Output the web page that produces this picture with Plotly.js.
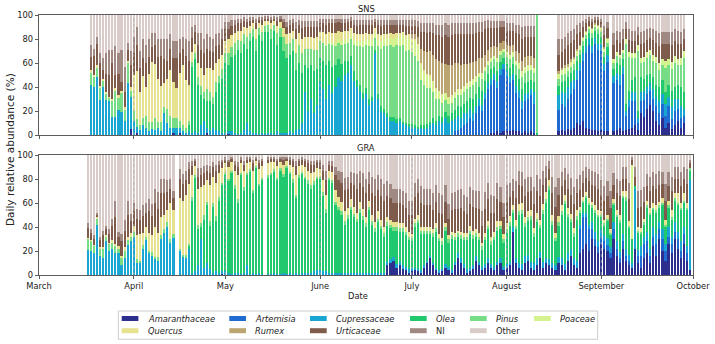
<!DOCTYPE html>
<html><head><meta charset="utf-8">
<script src="https://cdn.plot.ly/plotly-3.0.1.min.js"></script>
<style>html,body{margin:0;padding:0;background:#fff}#chart{width:715px;height:344px}</style>
</head><body><div id="chart"></div>
<script>
const categories = ['Amaranthaceae','Artemisia','Cupressaceae','Olea','Pinus','Poaceae','Quercus','Rumex','Urticaceae','NI','Other'];
const italicNames = [true,true,true,true,true,true,true,true,true,false,false];
const colors = ['#2d2f8e','#1f6bd2','#1aa6d2','#20c96e','#76dc86','#d4f28e','#e6e290','#bba570','#7f5b4b','#a08883','#d9cbc8'];
const monthTicks = ['2021-03-01','2021-04-01','2021-05-01','2021-06-01','2021-07-01','2021-08-01','2021-09-01','2021-10-01'];
const monthLabels = ['March','April','May','June','July','August','September','October'];
const snsStart = '2021-03-18';
const graStart = '2021-03-17';
const n = null;

// ---------- SNS (18 Mar - 28 Sep) ----------
const snsAmaranthaceae = [
0,0,0,0,0,0,0,0,0,0, 0,0,0,5,0,2,0,0,0,0, 0,0,0,0,0,0,0,2,0,2, 0,0,0,0,0,0,0,0,2,0,
0,0,0,0,0,1,0,0,0,0, 0,0,0,0,0,0,0,0,0,0, 0,0,0,0,0,0,0,0,0,0, 0,0,0,0,0,0,0,0,0,0,
0,0,0,0,0,0,0,0,0,0, 0,0,0,0,0,0,0,0,0,0, 0,0,0,0,0,0,0,0,0,0, 0,0,0,0,0,0,0,0,0,0,
0,0,0,0,0,0,0,0,0,0, 0,2,2,3,2,3,3,3,4,3, 3,2,3,2,3,2,0,n,n,n, n,n,n,3,4,3,5,4,6,10,
8,12,6,5,4,4,3,4,3,3, n,3,4,6,3,4,5,6,8,4, 18,15,22,25,20,12,8,14,6,10, 5,8,12,6,10];
const snsArtemisia = [
0,0,0,0,0,0,0,0,0,0, 0,0,0,0,0,0,0,0,0,0, 0,0,0,0,0,0,0,0,0,0, 0,0,0,0,0,0,0,0,0,0,
0,0,0,0,0,0,0,0,0,0, 0,0,0,0,0,0,0,0,0,0, 0,0,0,0,0,0,0,0,0,0, 0,0,0,0,0,0,0,0,0,0,
0,0,0,0,0,0,0,0,0,0, 0,0,0,0,0,0,0,0,0,0, 0,0,0,0,0,0,0,0,0,0, 0,0,0,0,0,0,0,0,0,3,
4,6,8,10,14,12,18,24,20,30, 38,40,44,36,48,52,45,40,42,32, 28,20,25,28,30,24,0,n,n,n, n,n,n,18,22,20,25,30,32,36,
45,50,62,70,64,72,68,66,50,58, n,40,42,36,48,12,18,22,20,6, 10,14,12,12,10,12,10,12,10,14, 8,12,10,8,6];
const snsCupressaceae = [
42,40,48,29,40,29,28,15,15,21, 19,12,43,27,12,5,4,8,6,3, 5,4,6,3,18,10,6,4,6,4, 3,2,3,2,3,2,8,12,4,3,
6,4,3,2,2,2,3,2,1,2, 4,10,3,2,2,1,2,1,2,2, 1,3,2,2,2,3,2,4,5,10, 36,20,30,18,25,44,38,30,42,35,
40,48,45,50,52,58,45,40,36,30, 34,25,28,68,30,20,18,15,12,12, 10,12,9,8,7,7,6,5,6,5, 6,8,10,8,12,10,14,10,12,10,
12,8,10,8,8,6,6,6,5,5, 5,5,5,6,5,4,5,5,5,6, 6,6,6,5,5,10,0,n,n,n, n,n,n,12,10,12,10,10,8,8,
7,6,6,5,6,5,5,6,6,6, n,6,6,8,6,4,6,8,8,4, 8,8,6,6,8,8,10,8,10,8, 10,10,8,10,6];
const snsOlea = [
0,0,0,0,0,0,0,0,0,0, 0,0,0,0,0,0,0,0,0,0, 0,0,0,0,0,0,0,0,0,0, 0,0,5,55,60,40,25,18,22,25,
20,32,40,45,58,55,62,65,70,66, 72,62,75,80,68,82,76,85,84,78, 86,72,80,68,62,64,68,50,55,42, 22,36,28,35,30,20,24,28,20,22,
18,15,14,12,10,8,8,6,6,5, 5,5,4,3,4,4,4,3,3,3, 3,2,2,2,2,2,2,2,2,3, 3,3,4,4,4,5,5,6,6,8,
8,9,8,10,9,12,10,10,12,10, 8,8,6,8,6,5,6,8,8,9, 10,10,9,9,8,8,2,n,n,n, n,n,n,8,8,10,8,8,8,8,
7,6,6,5,7,6,8,6,6,6, n,6,8,8,6,6,8,10,12,6, 12,10,10,8,10,10,12,12,10,10, 14,10,12,16,14];
const snsPinus = [
10,8,8,10,5,5,3,13,22,10, 16,9,17,5,8,6,4,6,10,8, 6,10,5,8,5,12,10,8,8,6, 5,4,4,4,5,6,8,6,10,8,
6,8,6,8,8,10,8,10,8,10, 8,10,7,6,10,6,8,5,6,8, 5,10,7,12,12,10,10,14,15,16, 14,16,14,18,16,14,15,16,14,18,
16,14,16,14,15,14,22,28,32,38, 36,44,42,10,40,48,52,56,60,58, 62,60,64,60,62,60,58,55,38,34, 30,28,22,18,14,12,10,10,9,10,
9,10,10,10,9,12,10,8,10,8, 7,6,6,8,6,5,6,7,6,8, 8,10,9,9,8,8,98,n,n,n, n,n,n,6,6,6,5,5,5,4,
4,4,3,3,4,3,4,4,4,4, n,5,6,6,5,50,28,18,16,50, 12,14,14,16,14,18,14,12,20,16, 18,20,16,18,28];
const snsPoaceae = [
0,0,0,0,0,0,0,0,0,0, 0,0,0,0,0,0,0,0,0,0, 0,0,0,0,0,0,0,0,0,0, 0,0,0,0,0,0,0,0,0,0,
0,0,0,0,0,0,0,0,0,0, 0,0,0,0,0,0,0,0,0,0, 0,0,0,0,0,0,0,0,0,0, 0,0,0,0,0,0,0,2,2,2,
3,3,3,3,3,3,4,4,4,5, 5,5,5,4,5,6,6,6,6,7, 7,8,8,10,10,10,12,12,12,10, 10,9,8,8,6,6,5,5,5,4,
4,4,4,4,4,4,4,3,4,3, 3,3,3,3,3,3,4,4,4,4, 5,5,5,5,4,4,0,n,n,n, n,n,n,4,4,5,4,4,4,4,
3,3,3,2,3,2,3,3,3,3, n,3,3,3,3,4,4,4,4,5, 4,4,5,4,5,5,6,5,6,5, 6,6,5,6,6];
const snsQuercus = [
2,2,2,2,2,2,1,2,2,2, 2,2,2,3,30,40,28,35,24,40, 50,45,36,30,20,25,38,30,25,40, 50,40,30,8,8,12,15,14,18,20,
22,16,14,12,10,12,10,8,8,9, 6,7,6,5,8,4,6,4,3,5, 3,6,5,7,8,8,7,12,10,12, 10,10,10,10,11,8,9,8,8,8,
8,7,8,8,7,6,6,6,6,6, 5,5,5,4,5,5,4,4,4,4, 3,3,3,3,3,2,2,2,2,2, 2,2,1,1,1,1,1,1,1,1,
1,1,1,1,1,1,1,1,1,1, 1,0,0,0,0,0,0,0,0,0, 0,0,0,0,0,0,0,n,n,n, n,n,n,0,0,0,0,0,0,0,
0,0,0,0,0,0,0,0,0,0, n,0,0,0,0,0,0,0,0,0, 0,0,0,0,0,0,0,0,0,0, 0,0,0,0,0];
const snsRumex = [
0,0,0,0,0,0,0,0,0,0, 0,0,0,0,0,0,0,0,0,0, 0,0,0,0,0,0,0,0,0,0, 0,0,0,0,0,0,0,0,0,0,
0,0,0,0,0,0,0,0,0,0, 0,0,0,0,0,0,0,0,0,0, 0,0,0,0,0,0,0,0,0,0, 0,0,0,0,0,0,0,0,0,0,
0,0,0,0,0,0,0,0,0,0, 0,0,0,0,0,0,0,0,0,0, 0,0,0,0,0,3,4,6,12,16, 18,20,22,24,25,26,24,26,25,24,
22,20,18,16,15,14,13,12,12,10, 9,9,8,9,7,6,6,7,6,8, 8,9,8,8,8,8,0,n,n,n, n,n,n,2,2,2,2,2,2,2,
1,1,1,1,1,1,1,1,1,1, n,0,0,0,0,0,0,0,0,0, 0,0,0,0,0,0,0,0,0,0, 0,0,0,0,0];
const snsUrticaceae = [
11,16,18,19,7,15,18,30,11,18, 7,13,9,18,18,22,20,15,20,14, 12,16,18,25,20,15,18,20,25,16, 14,20,20,12,10,15,15,18,16,14,
15,14,12,13,10,8,8,7,6,6, 5,5,4,3,5,3,4,2,2,3, 2,4,3,5,6,7,6,8,7,9, 8,8,8,9,8,7,7,8,7,8,
8,7,7,6,7,6,7,7,8,8, 7,8,8,5,8,8,8,8,7,8, 7,7,6,8,7,7,7,8,14,16, 16,16,18,20,21,22,24,24,25,24,
24,26,25,25,24,23,23,22,22,21, 18,16,15,16,13,12,12,13,12,15, 16,18,17,16,16,18,0,n,n,n, n,n,n,14,13,14,16,14,14,12,
11,8,6,4,5,3,4,4,10,8, n,12,10,10,9,8,10,10,10,8, 12,12,10,10,12,12,14,13,14,13, 14,12,13,12,10];
const snsNI = [
10,6,6,8,10,17,21,11,24,17, 27,21,6,12,14,15,14,16,15,15, 12,10,15,14,17,18,12,14,14,12, 10,14,16,9,6,10,14,12,12,12,
11,10,10,8,6,6,5,4,4,4, 3,3,3,2,4,2,2,2,2,2, 2,3,2,3,4,4,4,6,4,6, 5,5,5,5,5,4,4,5,4,4,
4,3,4,4,3,3,4,5,4,4, 4,4,4,3,4,5,4,4,4,4, 4,4,4,5,5,5,5,5,7,7, 8,7,8,9,9,10,10,10,10,9,
9,9,9,9,9,9,8,8,8,7, 7,6,6,6,5,5,6,6,6,7, 8,10,9,9,9,9,0,n,n,n, n,n,n,13,11,10,10,10,9,8,
7,5,4,3,3,2,2,3,8,5, n,10,8,9,8,6,9,9,9,7, 10,10,9,8,9,10,11,10,10,10, 11,10,11,10,8];
const snsOther = [
25,28,18,32,36,32,29,29,26,32, 29,43,23,30,18,10,30,20,25,20, 15,15,20,20,20,20,16,22,22,20, 18,20,22,10,8,15,15,20,16,18,
20,16,15,12,6,6,4,4,3,3, 2,3,2,2,3,2,2,1,1,2, 1,2,1,3,6,4,3,6,4,5, 5,5,5,5,5,3,3,3,3,3,
3,3,3,3,3,2,4,4,4,4, 4,4,4,3,4,4,4,4,4,4, 4,4,4,4,4,4,4,5,7,7, 7,7,7,8,8,8,7,8,7,7,
7,7,7,7,7,7,7,6,6,5, 4,5,5,5,5,5,7,7,7,8, 8,10,9,9,9,9,0,n,n,n, n,n,n,20,20,18,15,13,12,8,
7,5,3,2,3,2,2,3,9,6, n,15,13,14,12,6,12,13,13,10, 14,13,12,11,12,13,15,14,14,14, 14,12,13,14,12];

// ---------- GRA (17 Mar - 30 Sep) ----------
const graAmaranthaceae = [
0,0,0,0,0,0,0,0,0,0, 0,0,0,0,0,0,0,0,0,0, 0,0,0,0,0,0,0,0,0,n, 0,0,0,0,0,0,0,0,0,0,
0,0,0,0,1,0,0,0,0,0, 0,0,0,0,0,0,0,0,n,0, 0,0,0,0,0,0,0,0,0,0, 0,0,0,0,0,0,0,0,0,0,
0,0,0,0,0,0,0,0,0,0, 0,0,0,0,0,0,0,0,8,10, 12,6,8,5,4,2,3,4,3,2, 6,10,14,8,4,2,3,6,4,2,
8,14,10,6,2,3,5,12,8,4, 6,10,6,4,8,10,4,6,8,36, 10,6,4,10,12,6,4,8,14,6, 10,8,6,4,10,8,4,12,16,8,
6,18,22,26,20,30,24,18,26,22, 20,14,30,16,10,22,12,8,6,22, 10,6,14,18,10,24,16,30,20,12, 26,18,30,22,14,26,12,4];
const graArtemisia = [
0,0,0,0,0,0,0,0,0,0, 0,0,0,0,0,0,0,0,0,0, 0,0,0,0,0,0,0,0,0,n, 0,0,0,0,0,0,0,0,0,0,
0,0,0,0,0,0,0,0,0,0, 0,0,0,0,0,0,0,0,n,0, 0,0,0,0,0,0,0,0,0,0, 0,0,0,0,0,0,0,0,0,0,
0,0,0,0,0,0,0,0,0,0, 0,0,0,0,0,0,0,0,0,0, 0,0,0,0,0,0,0,0,0,0, 0,0,0,0,0,0,0,0,0,0,
0,0,0,0,0,0,0,0,0,0, 0,0,0,0,0,0,0,0,0,0, 0,0,0,0,0,0,0,0,0,0, 0,0,0,0,0,0,0,0,0,0,
0,20,26,22,18,8,6,5,6,6, 5,4,8,6,4,6,4,4,0,0, 6,10,12,10,6,8,10,8,10,8, 6,8,6,8,6,8,6,0];
const graCupressaceae = [
21,20,18,42,16,14,28,20,22,18, 18,8,14,25,28,32,10,10,22,29, 18,16,13,12,30,35,40,27,31,n, 20,15,14,22,2,3,8,30,6,10,
5,2,3,2,2,3,2,1,2,2, 1,2,8,1,2,1,2,1,n,1, 1,2,1,1,2,1,2,1,2,1, 2,2,2,2,3,4,4,3,3,2,
2,2,2,2,2,2,2,2,2,2, 2,2,2,2,2,2,2,2,3,3, 3,3,3,3,3,3,3,2,2,2, 2,2,2,2,2,2,2,3,3,2,
3,4,4,3,3,3,3,4,3,3, 3,4,3,3,3,4,3,3,3,4, 4,4,5,6,5,5,6,6,5,5, 4,5,4,4,5,6,5,6,6,6,
6,4,4,4,4,6,6,5,6,5, 6,5,6,6,5,6,6,5,4,50, 5,8,6,8,6,8,8,6,8,6, 8,6,8,6,8,6,6,75];
const graOlea = [
0,0,0,0,0,0,0,0,0,0, 0,0,0,0,0,0,0,0,0,0, 0,0,0,0,0,0,0,0,0,n, 0,0,0,2,60,78,30,10,40,48,
36,55,42,60,72,80,76,84,70,58, 82,68,75,85,66,88,72,78,n,80, 82,84,78,86,80,88,82,76,62,80, 82,78,74,70,72,76,76,63,49,77,
75,56,52,48,40,45,52,46,42,50, 44,38,52,40,34,42,36,30,30,26, 22,28,25,28,26,24,22,34,38,30, 26,22,18,22,30,24,20,28,20,26,
18,14,16,20,24,28,22,16,18,14, 20,24,16,22,26,24,20,26,30,12, 24,40,42,24,28,35,22,30,20,40, 46,58,32,20,26,36,50,30,22,18,
34,10,8,12,16,12,16,20,10,8, 14,10,14,20,24,30,40,22,20,2, 14,10,10,20,28,14,18,12,20,14, 16,14,18,22,26,20,30,8];
const graPinus = [
9,8,6,5,6,8,4,6,5,6, 4,6,6,4,4,4,3,2,3,3, 2,3,2,3,3,3,4,3,3,n, 2,2,3,2,3,2,4,3,4,3,
4,3,4,3,2,2,2,2,3,3, 2,3,2,2,3,2,2,2,n,2, 2,2,2,2,2,2,2,3,3,2, 2,2,3,3,3,2,2,3,3,2,
2,3,3,3,3,3,3,3,3,3, 3,3,3,3,3,3,3,3,3,3, 3,3,3,3,3,3,3,3,3,3, 3,3,3,3,3,3,3,3,3,3,
3,3,3,3,3,3,3,3,3,3, 3,3,3,3,3,3,3,3,3,2, 3,3,3,3,3,3,3,3,3,3, 3,3,3,3,3,3,3,3,3,3,
3,2,2,2,2,2,2,2,2,2, 2,2,2,2,3,2,3,2,0,0, 2,2,2,2,2,2,2,2,2,2, 2,2,2,2,2,2,2,2];
const graPoaceae = [
0,0,0,0,0,0,0,0,0,0, 0,0,0,0,0,0,0,0,0,0, 0,0,0,0,0,0,0,0,0,n, 0,0,0,0,0,0,0,0,0,0,
0,0,0,0,0,0,0,0,0,0, 0,0,0,0,0,0,0,0,n,0, 0,0,0,0,0,0,0,0,0,0, 0,0,0,0,0,0,0,0,0,0,
0,0,0,0,0,0,0,0,0,0, 0,0,0,0,0,0,0,0,0,0, 0,0,0,0,0,0,0,0,0,0, 0,0,0,0,0,0,0,0,0,0,
0,0,0,0,0,0,0,0,0,0, 0,0,0,0,0,0,0,0,0,0, 0,0,0,0,0,0,0,0,0,0, 0,0,0,0,0,0,0,0,0,0,
0,0,0,0,0,0,0,0,0,0, 0,0,0,0,0,0,0,0,62,0, 0,0,0,0,0,0,0,0,0,0, 0,0,0,0,0,0,0,0];
const graQuercus = [
1,1,1,1,1,1,1,1,2,2, 2,2,3,3,3,5,20,22,10,8, 15,14,25,20,15,12,10,30,20,n, 42,45,50,50,18,8,30,30,25,18,
30,22,28,20,12,8,10,7,12,20, 8,14,8,6,16,4,12,10,n,10, 9,6,10,5,8,4,6,10,16,8, 6,8,8,10,8,7,6,10,12,6,
7,10,8,8,8,6,6,6,5,6, 6,5,5,5,5,6,5,5,4,4, 4,4,4,4,4,4,3,4,4,3, 3,3,3,3,4,3,3,3,3,3,
3,2,3,3,3,4,4,3,3,3, 3,4,4,4,5,4,4,5,5,4, 5,6,6,5,5,5,4,5,4,5, 6,5,5,4,5,5,5,5,4,4,
5,3,3,3,4,3,4,4,3,3, 3,3,3,4,4,4,5,4,0,0, 3,3,3,4,4,4,4,3,4,4, 4,6,4,8,4,6,4,0];
const graUrticaceae = [
8,6,5,2,6,10,5,7,12,22, 8,12,14,18,10,12,14,12,14,12, 18,16,20,20,20,18,15,12,10,n, 16,14,12,12,8,4,10,10,10,8,
10,8,10,7,5,3,4,3,5,7, 3,5,3,3,6,2,5,4,n,3, 3,3,4,3,4,2,4,5,8,4, 4,5,6,7,6,5,5,8,12,5,
5,12,14,16,18,16,14,18,20,16, 18,20,14,18,22,18,20,22,18,18, 16,16,17,15,16,14,16,18,18,20, 18,18,18,16,18,18,20,18,14,18,
20,18,20,18,16,18,20,18,20,14, 20,18,20,16,18,16,14,18,16,12, 18,16,14,18,16,16,20,18,20,16, 12,9,18,22,18,16,12,16,16,20,
14,14,12,12,14,14,16,18,14,16, 16,18,12,14,16,10,10,18,4,8, 16,18,14,12,14,14,14,14,12,16, 12,16,12,12,14,12,16,4];
const graNI = [
4,3,3,2,3,4,3,4,6,14, 4,6,9,12,6,7,8,8,9,8, 10,10,12,14,12,12,10,8,6,n, 8,8,8,6,4,2,7,6,6,5,
6,4,5,3,2,2,2,1,3,4, 2,3,2,1,3,1,3,2,n,2, 1,1,2,1,2,1,2,2,4,2, 2,2,3,3,3,2,3,5,8,3,
4,7,8,9,10,10,9,10,12,10, 12,12,10,14,14,12,14,14,12,12, 12,12,12,12,12,12,12,12,12,14, 14,14,14,14,14,16,16,14,12,14,
14,16,16,14,14,14,14,14,15,12, 14,14,15,14,14,12,12,14,12,10, 14,12,12,14,13,12,14,13,14,12, 10,7,14,16,14,12,10,12,14,14,
12,12,10,9,10,12,12,12,12,12, 12,14,10,12,12,10,10,14,2,8, 14,14,12,10,12,12,12,12,10,14, 12,12,10,10,12,10,12,3];
const graOther = [
57,62,67,48,68,63,59,62,53,38, 64,66,54,38,49,40,45,46,42,40, 37,41,28,31,20,20,21,20,30,n, 12,16,13,6,5,3,11,11,9,8,
9,6,8,5,4,2,4,2,5,6, 2,5,2,2,4,2,4,3,n,2, 2,2,3,2,2,2,2,3,5,3, 2,3,4,5,5,4,4,8,13,5,
5,10,13,14,19,18,14,15,16,13, 15,20,14,18,20,17,20,24,22,24, 28,28,28,30,32,38,38,23,20,26, 28,28,28,32,25,32,33,25,41,32,
31,29,28,33,35,27,29,30,30,47, 31,23,33,34,23,27,40,25,23,20, 22,13,14,20,18,18,27,17,20,13, 9,5,18,27,19,14,11,16,19,27,
20,17,13,10,12,13,14,16,21,26, 22,30,15,20,22,10,10,23,2,10, 30,29,27,16,18,14,16,13,14,24, 14,18,10,10,14,10,12,4];

const snsSeries = [snsAmaranthaceae,snsArtemisia,snsCupressaceae,snsOlea,snsPinus,snsPoaceae,snsQuercus,snsRumex,snsUrticaceae,snsNI,snsOther];
const graSeries = [graAmaranthaceae,graArtemisia,graCupressaceae,graOlea,graPinus,graPoaceae,graQuercus,null,graUrticaceae,graNI,graOther];

function makeDates(start, len){
  const t0 = Date.parse(start + 'T00:00:00Z');
  const out = [];
  for (let i = 0; i < len; i++) out.push(new Date(t0 + i*86400000).toISOString().slice(0,10));
  return out;
}
const snsDates = makeDates(snsStart, snsOther.length);
const graDates = makeDates(graStart, graOther.length);

const FONT = 'DejaVu Sans, Liberation Sans, sans-serif';
const traces = [];
categories.forEach((c,k) => {
  traces.push({type:'bar', x:snsDates, y:snsSeries[k], xaxis:'x', yaxis:'y', name:c,
    marker:{color:colors[k], line:{width:0}}, showlegend:false, hoverinfo:'x+y+name'});
});
categories.forEach((c,k) => {
  if (!graSeries[k]) return;
  traces.push({type:'bar', x:graDates, y:graSeries[k], xaxis:'x2', yaxis:'y2', name:c,
    marker:{color:colors[k], line:{width:0}}, showlegend:false, hoverinfo:'x+y+name'});
});

// layout helpers (pixel -> paper), plot area: x 39..693, y 15..275
const fx = px => (px - 39) / 654;
const fy = py => (275 - py) / 260;

const axisCommon = {
  type:'date', range:[monthTicks[0], monthTicks[monthTicks.length-1]],
  tickmode:'array', tickvals:monthTicks, ticktext:monthLabels,
  ticks:'outside', ticklen:3.5, tickwidth:0.8, tickcolor:'#333',
  showline:true, mirror:true, linecolor:'#333', linewidth:0.8,
  showgrid:false, zeroline:false, tickfont:{family:FONT, size:8.3, color:'#222'}
};
const yCommon = {
  range:[0,100], tickmode:'array', tickvals:[0,20,40,60,80,100],
  ticks:'outside', ticklen:3.5, tickwidth:0.8, tickcolor:'#333',
  showline:true, mirror:true, linecolor:'#333', linewidth:0.8,
  showgrid:false, zeroline:false, tickfont:{family:FONT, size:8.3, color:'#222'}
};

const shapes = [];
monthTicks.slice(1, -1).forEach(m => {
  [['x','y domain'],['x2','y2 domain']].forEach(([xr,yr]) => {
    shapes.push({type:'line', xref:xr, yref:yr, x0:m, x1:m, y0:0, y1:1, layer:'above',
      line:{color:'rgba(170,170,170,0.9)', width:0.8, dash:'dot'}});
  });
});
// legend frame
shapes.push({type:'rect', xref:'paper', yref:'paper', x0:fx(118.3), x1:fx(597.7), y0:fy(339.3), y1:fy(311),
  line:{color:'#cccccc', width:1}, fillcolor:'#ffffff', layer:'above'});

const annotations = [
  {text:'SNS', xref:'paper', yref:'paper', x:0.5, y:fy(8.5), xanchor:'center', yanchor:'middle', showarrow:false, font:{family:FONT, size:8.3, color:'#222'}},
  {text:'GRA', xref:'paper', yref:'paper', x:0.5, y:fy(148), xanchor:'center', yanchor:'middle', showarrow:false, font:{family:FONT, size:8.3, color:'#222'}},
  {text:'Date', xref:'paper', yref:'paper', x:fx(357.5), y:fy(296), xanchor:'center', yanchor:'middle', showarrow:false, font:{family:FONT, size:8.3, color:'#222'}},
  {text:'Daily relative abundance (%)', xref:'paper', yref:'paper', x:fx(10), y:fy(150), xanchor:'center', yanchor:'middle', textangle:-90, showarrow:false, font:{family:FONT, size:10.5, color:'#222'}}
];

const colX = [121.7, 229.3, 310, 410, 470, 534];
const rowY = [318.5, 330.7];
categories.forEach((c,k) => {
  const r = k < 6 ? 0 : 1;
  const col = k < 6 ? k : k - 6;
  const x0 = colX[col];
  shapes.push({type:'rect', xref:'paper', yref:'paper', x0:fx(x0), x1:fx(x0+16.7), y0:fy(rowY[r]+2.5), y1:fy(rowY[r]-2.5),
    fillcolor:colors[k], line:{width:0}, layer:'above'});
  annotations.push({text: italicNames[k] ? '<i>'+c+'</i>' : c, xref:'paper', yref:'paper', x:fx(x0+24), y:fy(rowY[r]),
    xanchor:'left', yanchor:'middle', showarrow:false, font:{family:FONT, size:8.3, color:'#222'}});
});

const layout = {
  width:715, height:344,
  margin:{l:39, r:22, t:15, b:69, pad:0},
  paper_bgcolor:'#fff', plot_bgcolor:'#fff',
  barmode:'stack', bargap:0.3,
  showlegend:false,
  font:{family:FONT, size:8.3, color:'#222'},
  xaxis:Object.assign({}, axisCommon, {domain:[0,1], anchor:'y', showticklabels:false}),
  yaxis:Object.assign({}, yCommon, {domain:[fy(135), 1], anchor:'x'}),
  xaxis2:Object.assign({}, axisCommon, {domain:[0,1], anchor:'y2', showticklabels:true}),
  yaxis2:Object.assign({}, yCommon, {domain:[0, fy(155)], anchor:'x2'}),
  shapes:shapes,
  annotations:annotations
};

Plotly.newPlot('chart', traces, layout, {displayModeBar:false, staticPlot:true});
</script>
</body></html>
